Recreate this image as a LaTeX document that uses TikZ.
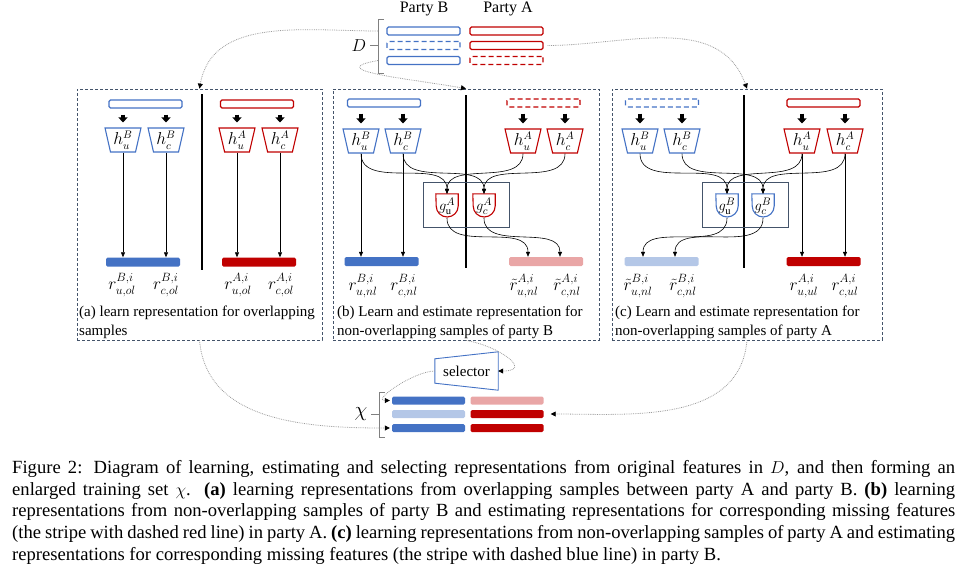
\documentclass[tikz,border=0pt]{standalone}
\usepackage{amsmath}
\usepackage{fontspec}
\setmainfont{Liberation Serif}
\usepackage{tikz}
\usetikzlibrary{positioning, arrows.meta, calc, shapes.geometric}

\definecolor{pblue}{RGB}{68,114,196}
\definecolor{pred}{RGB}{192,0,0}
\definecolor{pslate}{RGB}{68,84,106}
\definecolor{pdot}{RGB}{155,155,155}

\tikzset{
  stripe/.style={rectangle, rounded corners=1.5pt, minimum width=73pt, minimum height=8pt, inner sep=0pt, line width=1.1pt},
  gap/.style={dash pattern=on 5pt off 3pt},
  bar/.style={rectangle, rounded corners=1.5pt, minimum width=74pt, minimum height=9pt, inner sep=0pt, draw=none},
  enc/.style={trapezium, shape border rotate=180, trapezium stretches=true, trapezium angle=77, minimum width=36pt, minimum height=24pt, inner sep=0pt, line width=1.1pt, font=\fontsize{16}{16}\selectfont},
  est/.style={minimum width=22pt, minimum height=24pt, inner sep=0pt, font=\fontsize{15}{15}\selectfont},
  panel/.style={draw=pslate, dash pattern=on 3pt off 2pt, line width=0.8pt, minimum height=251pt, inner sep=0pt},
  divider/.style={line width=1.3pt},
  blk/.style={line width=3.5pt, -{Triangle[width=9pt,length=5pt]}, shorten <=6pt, shorten >=5pt},
  flow/.style={-{Triangle[width=4pt,length=5pt]}, line width=0.6pt},
  hop/.style={pdot, densely dotted, line width=0.8pt, -{Triangle[width=5pt,length=5pt,color=black]}},
  brace/.style={gray, line width=0.8pt},
  rlab/.style={font=\fontsize{17.5}{17.5}\selectfont, inner sep=0pt},
  plab/.style={anchor=north west, align=left, font=\fontsize{15}{19}\selectfont, inner sep=0pt},
}
\newcommand{\gcup}[2]{\draw[#2, line width=1.1pt] (#1.north west) -- (#1.north east) -- (#1.east) arc[start angle=0, end angle=-180, radius=11pt] -- cycle;}

\begin{document}
\begin{tikzpicture}[x=1pt, y=-1pt]
\useasboundingbox (0,0) rectangle (964,565);
% parties and original features D
\node[font=\fontsize{16}{16}\selectfont] (partyB) at (424,9) {Party B};
\node[font=\fontsize{16}{16}\selectfont] (partyA) at (508,9) {Party A};
\node[stripe, draw=pblue] (dB1) at (423.5,31) {};
\node[stripe, draw=pblue, gap] (dB2) at (423.5,45.5) {};
\node[stripe, draw=pblue] (dB3) at (423.5,60.5) {};
\node[stripe, draw=pred] (dA1) at (506.5,31) {};
\node[stripe, draw=pred] (dA2) at (506.5,45.5) {};
\node[stripe, draw=pred, gap] (dA3) at (506.5,60.5) {};
\draw[brace] (384,19) -- (378,19) -- (378,73) -- (384,73);
\coordinate (dtop) at (378,31);
\coordinate (dmid) at (378,45.5);
\coordinate (dbot) at (378,60.5);
\node[font=\fontsize{18}{18}\selectfont] (D) at (359,45.5) {$D$};
\draw[brace] (dmid) -- (D.east);
% the three panels
\node[panel, minimum width=245pt] (pa) at (199.5,214.5) {};
\node[panel, minimum width=266pt] (pb) at (466,214.5) {};
\node[panel, minimum width=270pt] (pc) at (747,214.5) {};
\draw[hop] (dtop) to[out=180,in=80] (pa.north);
\draw[hop] (dbot) to[out=190,in=170,looseness=1.6] (pb.north);
\draw[hop, shorten <=4pt] (dA2.east) to[out=0,in=110] (pc.north);

% (a) overlapping samples
\draw[divider] (202,94) -- (202,270);
\node[stripe, draw=pblue] (a-sB) at (145.5,104) {};
\node[stripe, draw=pred] (a-sA) at (257,104) {};
\node[enc, draw=pblue] (a-hub) at (123,140) {$h^{B}_{u}$};
\node[enc, draw=pblue] (a-hcb) at (166,140) {$h^{B}_{c}$};
\node[enc, draw=pred] (a-hua) at (237,140) {$h^{A}_{u}$};
\node[enc, draw=pred] (a-hca) at (280,140) {$h^{A}_{c}$};
\node[bar, fill=pblue] (a-bB) at (143,262) {};
\node[bar, fill=pred] (a-bA) at (259,262) {};
\draw[blk] (a-hub.north |- a-sB.south) -- (a-hub.north);
\draw[blk] (a-hcb.north |- a-sB.south) -- (a-hcb.north);
\draw[blk] (a-hua.north |- a-sA.south) -- (a-hua.north);
\draw[blk] (a-hca.north |- a-sA.south) -- (a-hca.north);
\draw[flow] (a-hub.south) -- (a-hub.south |- a-bB.north);
\draw[flow] (a-hcb.south) -- (a-hcb.south |- a-bB.north);
\draw[flow] (a-hua.south) -- (a-hua.south |- a-bA.north);
\draw[flow] (a-hca.south) -- (a-hca.south |- a-bA.north);
\node[rlab] (a-rub) at (122,285) {$r^{B,i}_{u,ol}$};
\node[rlab] (a-rcb) at (166,285) {$r^{B,i}_{c,ol}$};
\node[rlab] (a-rua) at (238,285) {$r^{A,i}_{u,ol}$};
\node[rlab] (a-rca) at (281,285) {$r^{A,i}_{c,ol}$};
\node[plab] (a-cap) at (79,306) {(a) learn representation for overlapping\\samples};

% (b) non-overlapping samples of party B
\draw[divider] (466,95) -- (466,268);
\node[stripe, draw=pblue] (b-sB) at (384,103) {};
\node[stripe, draw=pred, gap] (b-sA) at (543.5,103) {};
\node[enc, draw=pblue] (b-hub) at (361,141) {$h^{B}_{u}$};
\node[enc, draw=pblue] (b-hcb) at (403,141) {$h^{B}_{c}$};
\node[enc, draw=pred] (b-hua) at (523,141) {$h^{A}_{u}$};
\node[enc, draw=pred] (b-hca) at (565,141) {$h^{A}_{c}$};
\draw[blk] (b-hub.north |- b-sB.south) -- (b-hub.north);
\draw[blk] (b-hcb.north |- b-sB.south) -- (b-hcb.north);
\draw[blk] (b-hua.north |- b-sA.south) -- (b-hua.north);
\draw[blk] (b-hca.north |- b-sA.south) -- (b-hca.north);
\node[draw=pslate, line width=0.9pt, minimum width=86pt, minimum height=45pt] (b-box) at (466,204.5) {};
\node[est] (b-gu) at (447,206) {$g^{A}_{\mathrm{u}}$};
\node[est] (b-gc) at (484,206) {$g^{A}_{c}$};
\gcup{b-gu}{pred}
\gcup{b-gc}{pred}
\node[bar, fill=pblue] (b-bB) at (381.5,261.5) {};
\node[bar, fill=pred!35] (b-bA) at (546,261.5) {};
\draw[flow] (b-hub.south) -- (b-hub.south |- b-bB.north);
\draw[flow] (b-hcb.south) -- (b-hcb.south |- b-bB.north);
\draw[flow] (b-hub.south) to[out=-90,in=90] (b-gu.north);
\draw[flow] (b-hcb.south) to[out=-90,in=90] (b-gc.north);
\draw[flow] (b-hua.south) to[out=-90,in=90] (b-gu.north);
\draw[flow] (b-hca.south) to[out=-90,in=90] (b-gc.north);
\draw[flow] (b-gu.south) to[out=-90,in=90] ([xshift=5pt]b-hua |- b-bA.north);
\draw[flow] (b-gc.south) to[out=-90,in=90] ([xshift=-5pt]b-hca |- b-bA.north);
\node[rlab] (b-rub) at (363,286) {$r^{B,i}_{u,nl}$};
\node[rlab] (b-rcb) at (404,286) {$r^{B,i}_{c,nl}$};
\node[rlab] (b-rua) at (524,286) {$\tilde{r}^{A,i}_{u,nl}$};
\node[rlab] (b-rca) at (567,286) {$\tilde{r}^{A,i}_{c,nl}$};
\node[plab] (b-cap) at (337,306) {(b) Learn and estimate representation for\\non-overlapping samples of party B};

% (c) non-overlapping samples of party A
\draw[divider] (744,95) -- (744,268);
\node[stripe, draw=pblue, gap] (c-sB) at (662,103) {};
\node[stripe, draw=pred] (c-sA) at (823.5,103) {};
\node[enc, draw=pblue] (c-hub) at (640,141) {$h^{B}_{u}$};
\node[enc, draw=pblue] (c-hcb) at (682,141) {$h^{B}_{c}$};
\node[enc, draw=pred] (c-hua) at (802,141) {$h^{A}_{u}$};
\node[enc, draw=pred] (c-hca) at (845,141) {$h^{A}_{c}$};
\draw[blk] (c-hub.north |- c-sB.south) -- (c-hub.north);
\draw[blk] (c-hcb.north |- c-sB.south) -- (c-hcb.north);
\draw[blk] (c-hua.north |- c-sA.south) -- (c-hua.north);
\draw[blk] (c-hca.north |- c-sA.south) -- (c-hca.north);
\node[draw=pslate, line width=0.9pt, minimum width=86pt, minimum height=45pt] (c-box) at (745,204.5) {};
\node[est] (c-gu) at (727,206) {$g^{B}_{\mathrm{u}}$};
\node[est] (c-gc) at (763,206) {$g^{B}_{c}$};
\gcup{c-gu}{pblue}
\gcup{c-gc}{pblue}
\node[bar, fill=pblue!40] (c-bB) at (661.5,261.5) {};
\node[bar, fill=pred] (c-bA) at (823.5,261.5) {};
\draw[flow] (c-hua.south) -- (c-hua.south |- c-bA.north);
\draw[flow] (c-hca.south) -- (c-hca.south |- c-bA.north);
\draw[flow] (c-hub.south) to[out=-90,in=90] (c-gu.north);
\draw[flow] (c-hcb.south) to[out=-90,in=90] (c-gc.north);
\draw[flow] (c-hua.south) to[out=-90,in=90] (c-gu.north);
\draw[flow] (c-hca.south) to[out=-90,in=90] (c-gc.north);
\draw[flow] (c-gu.south) to[out=-90,in=90] ([xshift=3pt]c-hub |- c-bB.north);
\draw[flow] (c-gc.south) to[out=-90,in=90] ([xshift=-7pt]c-hcb |- c-bB.north);
\node[rlab] (c-rub) at (638,286) {$\tilde{r}^{B,i}_{u,nl}$};
\node[rlab] (c-rcb) at (683,286) {$\tilde{r}^{B,i}_{c,nl}$};
\node[rlab] (c-rua) at (804,286) {$r^{A,i}_{u,ul}$};
\node[rlab] (c-rca) at (845,286) {$r^{A,i}_{c,ul}$};
\node[plab] (c-cap) at (615,306) {(c) Learn and estimate representation for\\non-overlapping samples of party A};

% selector and enlarged training set
\node[font=\fontsize{15}{15}\selectfont, minimum width=63pt, minimum height=38pt, inner sep=0pt] (sel) at (466.5,371) {selector};
\draw[pblue, line width=0.9pt] ([yshift=-7pt]sel.north west) -- (sel.north east) -- (sel.south east) -- ([yshift=7pt]sel.south west) -- cycle;
\node[bar, minimum width=73pt, minimum height=8pt, fill=pblue] (xB1) at (428.5,400.5) {};
\node[bar, minimum width=73pt, minimum height=8pt, fill=pblue!40] (xB2) at (428.5,414) {};
\node[bar, minimum width=73pt, minimum height=8pt, fill=pblue] (xB3) at (428.5,428) {};
\node[bar, minimum width=73pt, minimum height=8pt, fill=pred!35] (xA1) at (507,400.5) {};
\node[bar, minimum width=73pt, minimum height=8pt, fill=pred] (xA2) at (507,414) {};
\node[bar, minimum width=73pt, minimum height=8pt, fill=pred] (xA3) at (507,428) {};
\draw[brace] (385,392) -- (379,392) -- (379,437) -- (385,437);
\coordinate (xmid) at (379,414);
\node[font=\fontsize{20}{20}\selectfont] (chi) at (361,414) {$\chi$};
\draw[brace] (xmid) -- (chi.east);
\draw[hop] (pb.south) to[out=-10,in=0,looseness=2] (sel.east);
\draw[hop, shorten >=2pt] (sel.west) to[out=180,in=180] (xB1.west);
\draw[hop, shorten >=2pt] (pa.south) to[out=-85,in=180] (xB3.west);
\draw[hop, shorten >=7pt] (pc.south) to[out=-95,in=0] (xA2.east);

% figure caption
\node[anchor=north west, inner sep=0pt, text width=943pt, align=justify, font=\fontsize{18.6}{21.75}\selectfont] (caption) at (12,460) {Figure 2: Diagram of learning, estimating and selecting representations from original features in $D$, and then forming an\linebreak enlarged training set $\chi$. \textbf{(a)} learning representations from overlapping samples between party A and party B. \textbf{(b)} learning\linebreak representations from non-overlapping samples of party B and estimating representations for corresponding missing features\linebreak (the stripe with dashed red line) in party A. \textbf{(c)} learning representations from non-overlapping samples of party A and estimating\linebreak representations for corresponding missing features (the stripe with dashed blue line) in party B.};
\end{tikzpicture}
\end{document}
